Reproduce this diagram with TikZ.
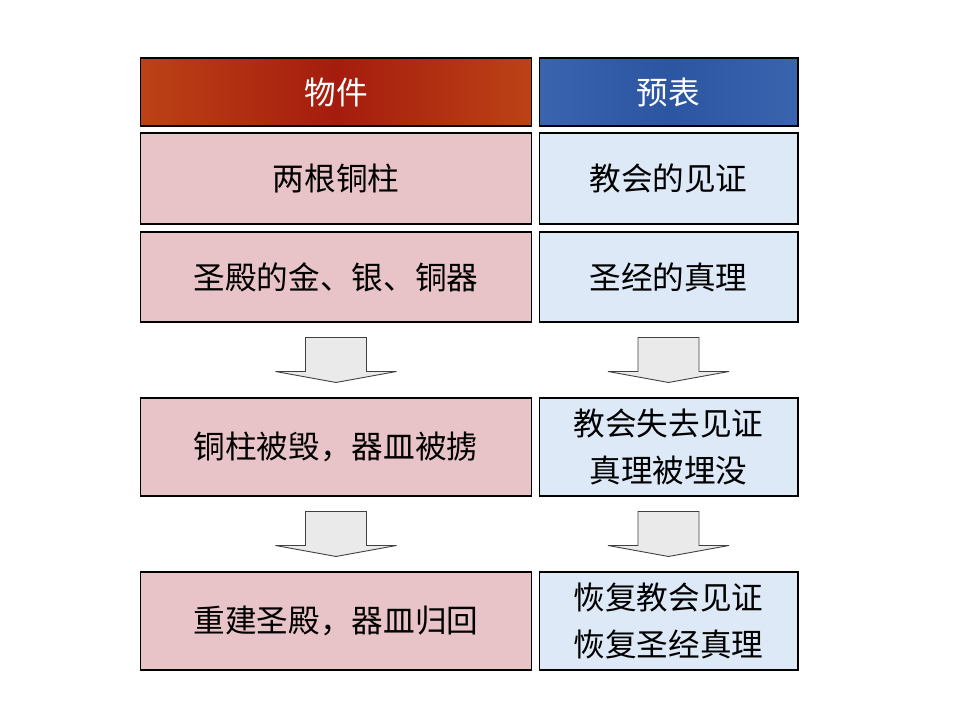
\documentclass[tikz,border=0pt]{standalone}
\usepackage{fontspec}
\setmainfont{Noto Sans CJK SC}
\usetikzlibrary{calc}
\definecolor{thingred}{HTML}{A51C0E}
\definecolor{thingedge}{HTML}{BC4216}
\definecolor{typeblue}{HTML}{2C55A2}
\definecolor{typeedge}{HTML}{3A64AE}
\definecolor{thingpink}{HTML}{E8C3C7}
\definecolor{typepale}{HTML}{DDE9F6}
\definecolor{arrowgray}{HTML}{EAEAEA}
\tikzset{
  cell/.style={draw=black,line width=.6pt,inner sep=0pt,align=center,
    font=\fontsize{18}{26.6}\selectfont},
  thing/.style={cell,fill=thingpink,minimum width=7.84cm},
  type/.style={cell,fill=typepale,minimum width=5.18cm},
  flow/.style={draw=black!75,line width=.5pt,fill=arrowgray,line join=miter}
}
\newcommand\flowarrow[2]{%
  \coordinate (top) at ($(#1.south)+(0,15)$);
  \coordinate (tip) at ($(#2.north)+(0,-15)$);
  \draw[flow] ($(top)+(-30.5,0)$) -- ($(top)+(30.5,0)$) -- ($(tip)+(30.5,-11)$)
    -- ($(tip)+(60.5,-11)$) -- (tip) -- ($(tip)+(-60.5,-11)$)
    -- ($(tip)+(-30.5,-11)$) -- cycle;}
\begin{document}
\begin{tikzpicture}[x=0.02cm,y=-0.02cm]
  \useasboundingbox (0,0) rectangle (960,720);
  \node[cell,minimum width=7.84cm,minimum height=1.36cm,text=white,
    left color=thingedge,right color=thingedge,middle color=thingred] (thinghead) at (336,92) {物件};
  \node[cell,minimum width=5.18cm,minimum height=1.36cm,text=white,
    left color=typeedge,right color=typeedge,middle color=typeblue] (typehead) at (668.5,92) {预表};
  \node[thing,minimum height=1.82cm] (pillars) at (336,178.5) {两根铜柱};
  \node[type,minimum height=1.82cm] (witness) at (668.5,178.5) {教会的见证};
  \node[thing,minimum height=1.8cm] (vessels) at (336,277) {圣殿的金、银、铜器};
  \node[type,minimum height=1.8cm] (truth) at (668.5,277) {圣经的真理};
  \node[thing,minimum height=1.96cm] (ruined) at (336,447) {铜柱被毁，器皿被掳};
  \node[type,minimum height=1.96cm] (lost) at (668.5,447) {教会失去见证\\真理被埋没};
  \node[thing,minimum height=1.96cm] (rebuilt) at (336,621) {重建圣殿，器皿归回};
  \node[type,minimum height=1.96cm] (restored) at (668.5,621) {恢复教会见证\\恢复圣经真理};
  \flowarrow{vessels}{ruined}
  \flowarrow{truth}{lost}
  \flowarrow{ruined}{rebuilt}
  \flowarrow{lost}{restored}
\end{tikzpicture}
\end{document}
